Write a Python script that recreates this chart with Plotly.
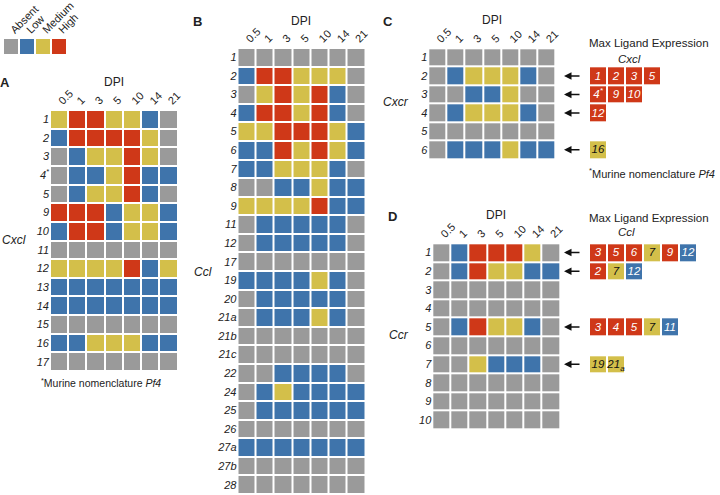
import plotly.graph_objects as go

# ---------------- data ----------------
DPI = ['0.5', '1', '3', '5', '10', '14', '21']
LEVEL_NAMES = ['Absent', 'Low', 'Medium', 'High']   # 0,1,2,3

A_ROWS = ['1', '2', '3', '4*', '5', '9', '10', '11', '12', '13', '14', '15', '16', '17']
A_VALUES = [
    [2, 3, 3, 2, 2, 1, 0],
    [1, 3, 3, 3, 3, 2, 0],
    [0, 1, 2, 2, 3, 2, 0],
    [0, 1, 1, 2, 3, 1, 1],
    [0, 1, 2, 2, 3, 1, 0],
    [3, 3, 3, 1, 2, 2, 1],
    [1, 3, 3, 1, 2, 2, 1],
    [0, 0, 0, 0, 0, 0, 0],
    [2, 2, 2, 2, 3, 1, 2],
    [1, 1, 1, 1, 1, 1, 1],
    [1, 1, 1, 1, 1, 1, 1],
    [0, 0, 0, 0, 0, 0, 0],
    [1, 1, 2, 2, 2, 1, 1],
    [0, 0, 0, 0, 0, 0, 0],
]

B_ROWS = ['1', '2', '3', '4', '5', '6', '7', '8', '9', '11', '12', '17', '19', '20',
          '21a', '21b', '21c', '22', '24', '25', '26', '27a', '27b', '28']
B_VALUES = [
    [0, 0, 0, 0, 0, 0, 0],
    [1, 3, 3, 2, 2, 2, 0],
    [0, 2, 3, 2, 3, 1, 0],
    [1, 3, 3, 2, 3, 1, 0],
    [2, 2, 3, 3, 3, 2, 1],
    [1, 1, 3, 2, 3, 2, 1],
    [1, 1, 2, 2, 2, 1, 0],
    [0, 0, 1, 1, 2, 1, 1],
    [2, 2, 2, 2, 3, 1, 1],
    [0, 1, 1, 1, 1, 1, 0],
    [0, 1, 1, 1, 1, 1, 0],
    [0, 0, 0, 0, 0, 0, 0],
    [1, 1, 1, 1, 2, 1, 0],
    [0, 1, 1, 1, 1, 1, 0],
    [0, 1, 1, 1, 2, 1, 0],
    [0, 0, 0, 0, 0, 0, 0],
    [0, 0, 0, 0, 0, 0, 0],
    [0, 0, 1, 1, 1, 1, 0],
    [0, 1, 2, 1, 1, 1, 1],
    [0, 1, 1, 1, 1, 1, 1],
    [0, 0, 0, 0, 0, 0, 0],
    [1, 1, 1, 1, 1, 1, 1],
    [0, 0, 0, 0, 0, 0, 0],
    [0, 0, 0, 0, 0, 0, 0],
]

C_ROWS = ['1', '2', '3', '4', '5', '6']
C_VALUES = [
    [0, 0, 0, 0, 0, 0, 0],
    [0, 1, 2, 2, 2, 1, 0],
    [0, 0, 1, 1, 2, 0, 0],
    [0, 1, 2, 2, 2, 1, 0],
    [0, 0, 0, 0, 0, 0, 0],
    [0, 1, 1, 1, 2, 1, 1],
]

D_ROWS = ['1', '2', '3', '4', '5', '6', '7', '8', '9', '10']
D_VALUES = [
    [0, 1, 3, 3, 3, 2, 0],
    [0, 1, 3, 2, 2, 1, 1],
    [0, 0, 0, 0, 0, 0, 0],
    [0, 0, 0, 0, 0, 0, 0],
    [0, 1, 3, 2, 2, 1, 0],
    [0, 0, 0, 0, 0, 0, 0],
    [0, 0, 2, 1, 1, 1, 0],
    [0, 0, 0, 0, 0, 0, 0],
    [0, 0, 0, 0, 0, 0, 0],
    [0, 0, 0, 0, 0, 0, 0],
]

# max ligand expression boxes
C_BOX_ROWS = ['2', '3', '4', '6']
C_BOX_LABELS = [['1', '2', '3', '5'], ['4*', '9', '10'], ['12'], ['16']]
C_BOX_LEVELS = [[3, 3, 3, 3], [3, 3, 3], [3], [2]]

D_BOX_ROWS = ['1', '2', '5', '7']
D_BOX_LABELS = [['3', '5', '6', '7', '9', '12'], ['2', '7', '12'],
                ['3', '4', '5', '7', '11'], ['19', '21a']]
D_BOX_LEVELS = [[3, 3, 3, 2, 3, 1], [3, 2, 1], [3, 3, 3, 2, 1], [2, 2]]

BOX_COLS = 6

# ---------------- style ----------------
W, H = 720, 495
GRAY, BLUE, YELLOW, RED = '#9a9a9a', '#3f74ab', '#d3bf4a', '#cf3818'
CSCALE = [[0, GRAY], [0.25, GRAY], [0.25, BLUE], [0.5, BLUE],
          [0.5, YELLOW], [0.75, YELLOW], [0.75, RED], [1, RED]]
FONT = 'Arial, Liberation Sans, sans-serif'


def dx(a, b):
    return [a / W, b / W]


def dy(top, bottom):
    return [1 - bottom / H, 1 - top / H]


def fmt(lbl):
    if lbl.endswith('*'):
        return lbl[:-1] + '<sup>*</sup>'
    return lbl


def fmt_box(lbl):
    if lbl.endswith('*'):
        return lbl[:-1] + '<sup>*</sup>'
    if lbl[-1].isalpha():
        return lbl[:-1] + '<sub>' + lbl[-1] + '</sub>'
    return lbl


fig = go.Figure()


def grid(rows, values, xa, ya):
    fig.add_trace(go.Heatmap(
        z=values, x=DPI, y=rows, xaxis=xa, yaxis=ya,
        colorscale=CSCALE, zmin=0, zmax=3, showscale=False,
        xgap=2, ygap=2, hoverinfo='skip'))


grid(A_ROWS, A_VALUES, 'x', 'y')
grid(B_ROWS, B_VALUES, 'x2', 'y2')
grid(C_ROWS, C_VALUES, 'x3', 'y3')
grid(D_ROWS, D_VALUES, 'x4', 'y4')


def boxes(all_rows, box_rows, labels, levels, xa, ya):
    z_dark, z_light, t_dark, t_light = [], [], [], []
    for r in all_rows:
        zd = [None] * BOX_COLS
        zl = [None] * BOX_COLS
        td = [''] * BOX_COLS
        tl = [''] * BOX_COLS
        if r in box_rows:
            k = box_rows.index(r)
            for j, (lb, lv) in enumerate(zip(labels[k], levels[k])):
                if lv == 2:
                    zl[j] = lv
                    tl[j] = fmt_box(lb)
                else:
                    zd[j] = lv
                    td[j] = fmt_box(lb)
        z_dark.append(zd)
        z_light.append(zl)
        t_dark.append(td)
        t_light.append(tl)
    for z, t, col in [(z_dark, t_dark, 'white'), (z_light, t_light, '#111111')]:
        fig.add_trace(go.Heatmap(
            z=z, x=list(range(BOX_COLS)), y=all_rows, xaxis=xa, yaxis=ya,
            text=t, texttemplate='%{text}',
            textfont=dict(family=FONT, size=11.5, color=col, style='italic'),
            colorscale=CSCALE, zmin=0, zmax=3, showscale=False,
            xgap=2, ygap=2, hoverinfo='skip'))


boxes(C_ROWS, C_BOX_ROWS, C_BOX_LABELS, C_BOX_LEVELS, 'x5', 'y3')
boxes(D_ROWS, D_BOX_ROWS, D_BOX_LABELS, D_BOX_LEVELS, 'x6', 'y4')

# legend swatches
fig.add_trace(go.Heatmap(
    z=[[0, 1, 2, 3]], x=LEVEL_NAMES, y=[''], xaxis='x7', yaxis='y7',
    colorscale=CSCALE, zmin=0, zmax=3, showscale=False,
    xgap=2, ygap=0, hoverinfo='skip'))

tickf = dict(family=FONT, size=11, color='#222222')
rowf = dict(family=FONT, size=11, color='#222222', style='italic')


def xax(dom, anchor):
    return dict(type='category', domain=dom, anchor=anchor, side='top',
                tickangle=-45, showgrid=False, zeroline=False, showline=False,
                ticks='', tickfont=tickf, fixedrange=True, automargin=False)


def yax(dom, anchor, rows):
    return dict(type='category', domain=dom, anchor=anchor, autorange='reversed',
                showgrid=False, zeroline=False, showline=False, ticks='',
                tickfont=rowf, tickmode='array', tickvals=rows,
                ticktext=[fmt(r) for r in rows], fixedrange=True,
                automargin=False)


def hidden_x(dom, anchor):
    return dict(type='linear', domain=dom, anchor=anchor,
                range=[-0.5, BOX_COLS - 0.5], visible=False,
                fixedrange=True, automargin=False)


A_X, A_Y = dx(50, 177.7), dy(110, 371)
B_X, B_Y = dx(237.5, 365), dy(48, 494)
C_X, C_Y = dx(428.3, 555.7), dy(48.3, 159)
D_X, D_Y = dx(432.3, 560), dy(243.3, 429.3)
BOX_X = dx(589, 697)

fig.update_layout(
    template='none',
    width=W, height=H, margin=dict(l=0, r=0, t=0, b=0, pad=0),
    paper_bgcolor='white', plot_bgcolor='white',
    font=dict(family=FONT, color='#222222'),
    xaxis=xax(A_X, 'y'), yaxis=yax(A_Y, 'x', A_ROWS),
    xaxis2=xax(B_X, 'y2'), yaxis2=yax(B_Y, 'x2', B_ROWS),
    xaxis3=xax(C_X, 'y3'), yaxis3=yax(C_Y, 'x3', C_ROWS),
    xaxis4=xax(D_X, 'y4'), yaxis4=yax(D_Y, 'x4', D_ROWS),
    xaxis5=hidden_x(BOX_X, 'y3'),
    xaxis6=hidden_x(BOX_X, 'y4'),
    xaxis7=dict(type='category', domain=dx(3, 67), anchor='y7', side='top',
                tickangle=-45, showgrid=False, zeroline=False, showline=False,
                ticks='', tickfont=dict(family=FONT, size=11, color='#222222'),
                fixedrange=True, automargin=False),
    yaxis7=dict(type='category', domain=dy(39, 54), anchor='x7', visible=False,
                fixedrange=True, automargin=False),
)

ann = []


def text(x, y, s, size=11, anchor='left', bold=False):
    ann.append(dict(x=x / W, y=1 - y / H, xref='paper', yref='paper', text=s,
                    showarrow=False, xanchor=anchor, yanchor='middle',
                    font=dict(family=FONT, size=size, color='#222222',
                              weight='bold' if bold else 'normal')))


# panel letters
text(5, 83, 'A', 13, 'center', True)
text(197, 21, 'B', 13, 'center', True)
text(388, 21, 'C', 13, 'center', True)
text(393, 217, 'D', 13, 'center', True)
# DPI titles
text(sum(A_X) / 2 * W, 82.5, 'DPI', 12, 'center')
text(sum(B_X) / 2 * W, 21, 'DPI', 12, 'center')
text(sum(C_X) / 2 * W, 20, 'DPI', 12, 'center')
text(sum(D_X) / 2 * W, 215, 'DPI', 12, 'center')
# family labels
text(0, 240, '<i>Cxcl</i>', 12)
text(192, 272, '<i>Ccl</i>', 12)
text(381, 102, '<i>Cxcr</i>', 12)
text(387, 335, '<i>Ccr</i>', 12)
# max ligand headers
text(587, 43, 'Max Ligand Expression', 11.5)
text(629, 59, '<i>Cxcl</i>', 11.5, 'center')
text(587, 218, 'Max Ligand Expression', 11.5)
text(626, 232, '<i>Ccl</i>', 11.5, 'center')
# footnotes
text(587, 173, '<sup>*</sup>Murine nomenclature <i>Pf4</i>', 11)
text(101, 382, '<sup>*</sup>Murine nomenclature <i>Pf4</i>', 10.5, 'center')

# arrows pointing to receptor rows with ligand boxes
for rows, brows, ya in [(C_ROWS, C_BOX_ROWS, 'y3'), (D_ROWS, D_BOX_ROWS, 'y4')]:
    for r in brows:
        ann.append(dict(x=564 / W, xref='paper', y=rows.index(r), yref=ya,
                        ax=17, ay=0, text='', showarrow=True, arrowhead=2,
                        arrowsize=1, arrowwidth=1.5, arrowcolor='#111111'))

fig.update_layout(annotations=ann)
fig.write_html('out.html', config={'displayModeBar': False},
               post_script="document.body.style.margin='0';"
                           "document.body.style.overflow='hidden';")
